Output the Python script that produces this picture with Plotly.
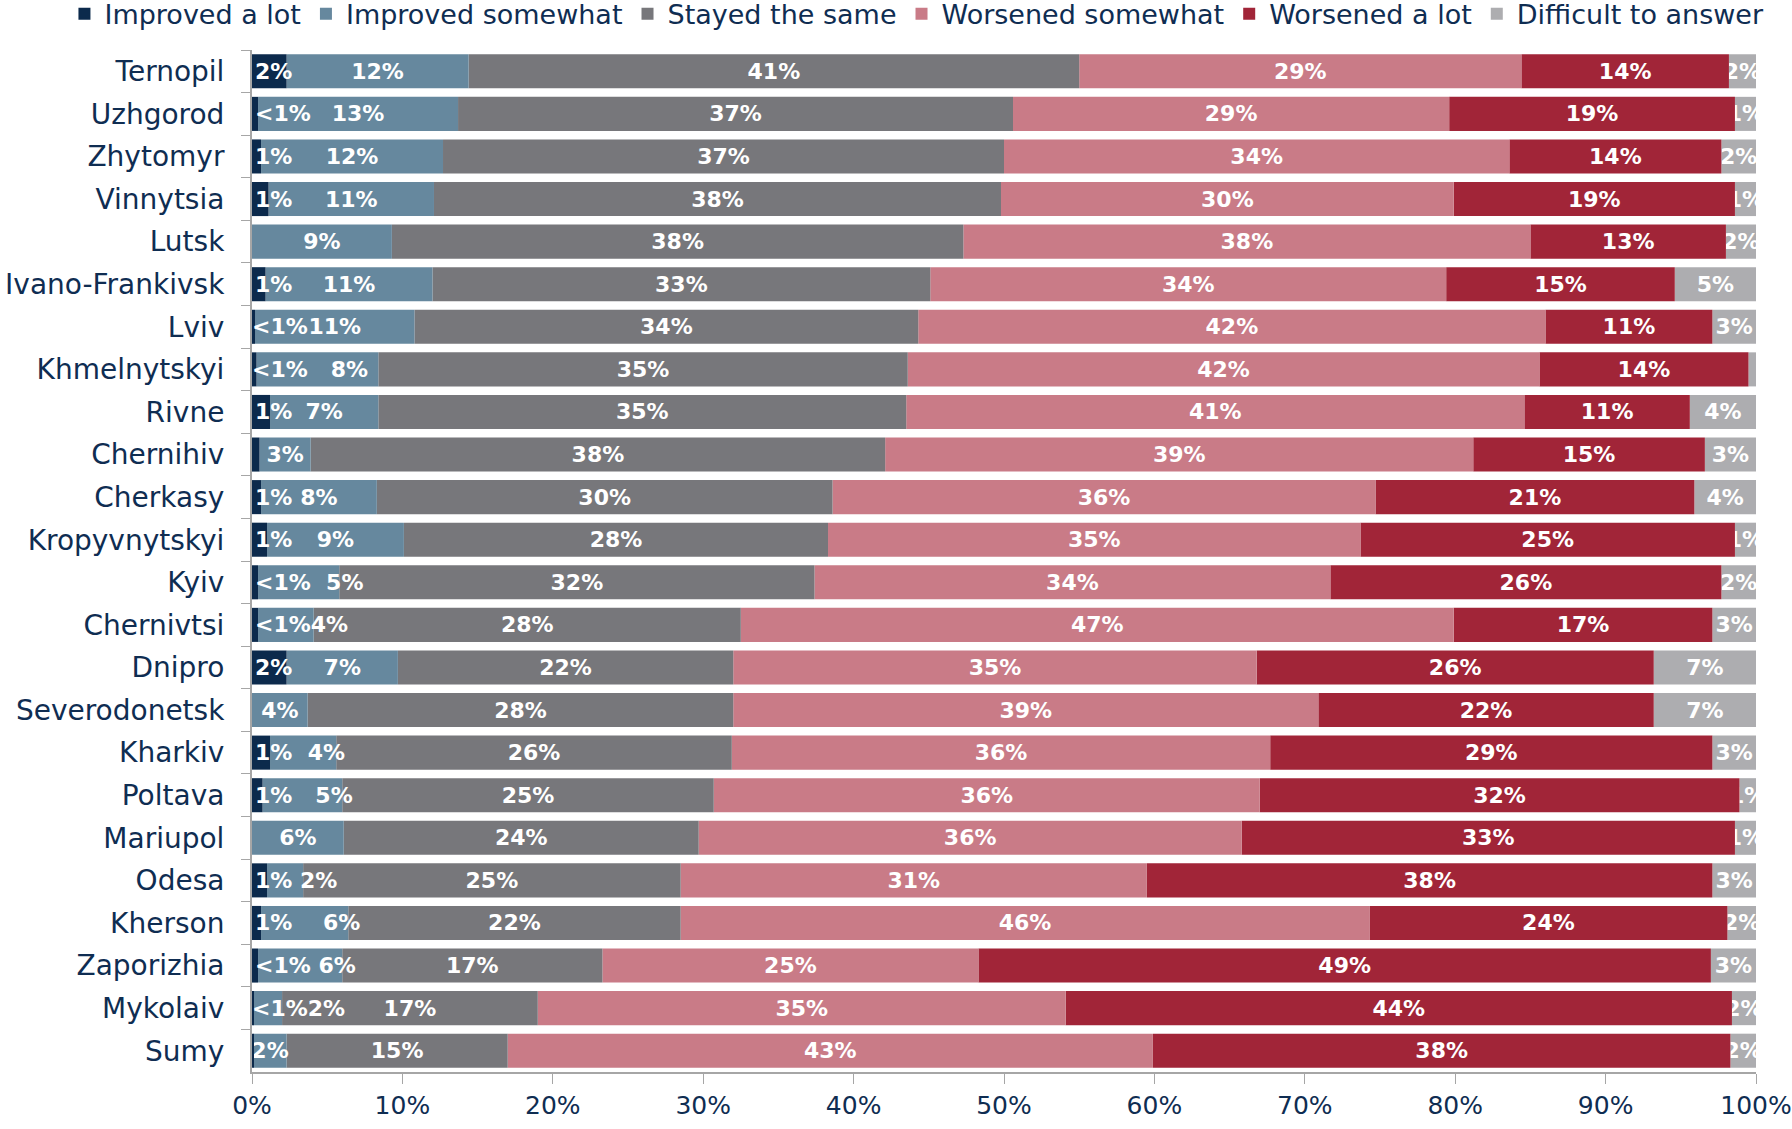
import plotly.graph_objects as go

cities = ["Ternopil", "Uzhgorod", "Zhytomyr", "Vinnytsia", "Lutsk", "Ivano-Frankivsk",
          "Lviv", "Khmelnytskyi", "Rivne", "Chernihiv", "Cherkasy", "Kropyvnytskyi",
          "Kyiv", "Chernivtsi", "Dnipro", "Severodonetsk", "Kharkiv", "Poltava",
          "Mariupol", "Odesa", "Kherson", "Zaporizhia", "Mykolaiv", "Sumy"]

improved_lot = [2.3, 0.4, 0.6, 1.1, 0.0, 0.9, 0.2, 0.3, 1.2, 0.5, 0.6, 1.0,
                0.4, 0.4, 2.3, 0.0, 1.2, 0.7, 0.0, 1.0, 0.6, 0.4, 0.1, 0.1]
improved_some = [12.1, 13.3, 12.1, 11.0, 9.3, 11.1, 10.6, 8.1, 7.2, 3.4, 7.7, 9.1,
                 5.4, 3.7, 7.4, 3.7, 4.4, 5.3, 6.1, 2.4, 5.8, 5.6, 1.9, 2.2]
same = [40.6, 36.9, 37.3, 37.7, 38.0, 33.1, 33.5, 35.2, 35.1, 38.2, 30.3, 28.2,
        31.6, 28.4, 22.3, 28.3, 26.3, 24.7, 23.6, 25.1, 22.1, 17.3, 17.0, 14.7]
worse_some = [29.4, 29.0, 33.6, 30.1, 37.7, 34.3, 41.7, 42.0, 41.1, 39.1, 36.1, 35.4,
              34.3, 47.4, 34.8, 38.9, 35.8, 36.3, 36.1, 31.0, 45.8, 25.0, 35.1, 42.9]
worse_lot = [13.8, 19.0, 14.1, 18.7, 13.0, 15.2, 11.1, 13.9, 11.0, 15.4, 21.2, 24.9,
             26.0, 17.2, 26.4, 22.3, 29.4, 31.9, 32.8, 37.6, 23.8, 48.7, 44.3, 38.4]
difficult = [1.8, 1.4, 2.3, 1.4, 2.0, 5.4, 2.9, 0.5, 4.4, 3.4, 4.1, 1.4,
             2.3, 2.9, 6.8, 6.8, 2.9, 1.1, 1.4, 2.9, 1.9, 3.0, 1.6, 1.7]

# the first two labels sit together where the bars are too narrow
improved_lot_labels = ["2%", "<1%", "1%", "1%", "", "1%", "<1%", "<1%   8%", "1%", "", "1%", "1%",
                       "<1%  5%", "<1%4%", "2%", "", "1%  4%", "1%   5%", "", "1% 2%",
                       "1%    6%", "<1% 6%", "<1%2%", ""]
improved_some_labels = ["12%", "13%", "12%", "11%", "9%", "11%", "11%", "", "7%", "3%", "8%", "9%",
                        "", "", "7%", "4%", "", "", "6%", "", "", "", "", "2%"]

series = ["Improved a lot", "Improved somewhat", "Stayed the same",
          "Worsened somewhat", "Worsened a lot", "Difficult to answer"]
colors = ["#0c2a4c", "#66889e", "#77777b", "#c97b87", "#a12538", "#adadb0"]
values = [improved_lot, improved_some, same, worse_some, worse_lot, difficult]


def make_labels(vals, hide=()):
    out = []
    for v, c in zip(vals, cities):
        if v == 0 or c in hide:
            out.append("")
        elif v < 0.5:
            out.append("<1%")
        else:
            out.append(f"{round(v)}%")
    return out


labels = [
    [t.replace(" ", "\u00a0") for t in improved_lot_labels],
    improved_some_labels,
    make_labels(same),
    make_labels(worse_some),
    make_labels(worse_lot),
    make_labels(difficult, hide=("Khmelnytskyi",)),
]

fig = go.Figure()

# running start of each segment
starts = []
base = [0.0] * len(cities)
for vals in values:
    starts.append(list(base))
    base = [b + v for b, v in zip(base, vals)]

# draw right-most series first so left labels stay on top
for k in reversed(range(len(series))):
    fig.add_trace(go.Bar(
        y=cities, x=values[k], base=starts[k], orientation="h", name=series[k],
        marker=dict(color=colors[k], line=dict(width=0)),
        text=labels[k],
        textposition="inside", textangle=0, constraintext="none",
        insidetextanchor="start" if k == 0 else "middle",
        insidetextfont=dict(family="DejaVu Sans", size=22, color="white", weight="bold"),
        cliponaxis=True,
    ))

fig.update_layout(
    barmode="overlay", bargap=0.2,
    width=1792, height=1129,
    plot_bgcolor="white", paper_bgcolor="white",
    margin=dict(l=252, r=36, t=50, b=57, autoexpand=False),
    font=dict(family="DejaVu Sans", color="#0f2d52"),
    legend=dict(orientation="h", traceorder="reversed", x=-0.1247, xanchor="left",
                y=1.011, yanchor="bottom", itemwidth=30,
                font=dict(size=27, color="#0f2d52"), bgcolor="rgba(0,0,0,0)"),
    showlegend=True,
)
fig.update_xaxes(range=[0, 100], tickvals=list(range(0, 101, 10)),
                 ticktext=[f"{v}%" for v in range(0, 101, 10)], automargin=False,
                 showgrid=False, zeroline=False, showline=True, linecolor="#a6a6a6",
                 linewidth=2, ticks="outside", ticklen=10, tickcolor="#a6a6a6",
                 tickfont=dict(size=25, color="#0f2d52"))
fig.update_yaxes(autorange="reversed", automargin=False, showgrid=False, showline=True,
                 linecolor="#a6a6a6", linewidth=2, ticks="outside", ticklen=9,
                 tickcolor="#a6a6a6", tickson="boundaries", ticklabelstandoff=20,
                 tickfont=dict(size=28, color="#0f2d52"))

# drop the page's default body margin so the figure fills the window
fig.write_html("out.html", config={"displayModeBar": False},
               post_script="document.body.style.margin = '0';")
